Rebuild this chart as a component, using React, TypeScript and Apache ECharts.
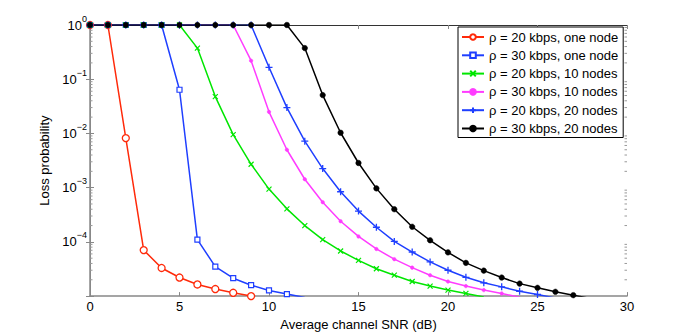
import React, { useEffect, useRef } from "react";
import * as echarts from "echarts";

// SNR (dB) starts at 0 and steps by 1 for every series
const snrStart = 0;
const snrStep = 1;

const red20One = [1, 1, 8.2e-3, 7.05e-5, 3.3e-5, 2.2e-5, 1.64e-5, 1.35e-5, 1.15e-5, 1.0e-5];
const blue30One = [1, 1, 1, 1, 1, 0.064, 1.1e-4, 3.5e-5, 2.14e-5, 1.59e-5, 1.27e-5, 1.09e-5, 9.4e-6];
const green20Ten = [1, 1, 1, 1, 1, 1, 0.375, 0.0478, 9.5e-3, 2.7e-3, 9.4e-4, 4.07e-4, 2.0e-4, 1.1e-4, 6.8e-5, 4.57e-5, 3.2e-5, 2.43e-5, 1.86e-5, 1.53e-5, 1.29e-5, 1.12e-5, 9.6e-6];
const magenta30Ten = [1, 1, 1, 1, 1, 1, 1, 1, 1, 0.22, 0.025, 5.0e-3, 1.43e-3, 5.4e-4, 2.4e-4, 1.26e-4, 7.4e-5, 4.8e-5, 3.35e-5, 2.43e-5, 1.86e-5, 1.53e-5, 1.29e-5, 1.12e-5, 9.5e-6];
const blue20Twenty = [1, 1, 1, 1, 1, 1, 1, 1, 1, 1, 0.166, 0.030, 7.2e-3, 2.25e-3, 8.4e-4, 3.7e-4, 1.86e-4, 1.02e-4, 6.5e-5, 4.27e-5, 3.0e-5, 2.22e-5, 1.76e-5, 1.48e-5, 1.23e-5, 1.07e-5, 9.2e-6];
const black30Twenty = [1, 1, 1, 1, 1, 1, 1, 1, 1, 1, 1, 1, 0.375, 0.051, 0.0103, 2.85e-3, 9.7e-4, 4.0e-4, 1.9e-4, 1.07e-4, 6.4e-5, 4.1e-5, 2.95e-5, 2.2e-5, 1.7e-5, 1.42e-5, 1.2e-5, 1.04e-5, 9.0e-6];

const seriesNames = [
  "ρ = 20 kbps, one node",
  "ρ = 30 kbps, one node",
  "ρ = 20 kbps, 10 nodes",
  "ρ = 30 kbps, 10 nodes",
  "ρ = 20 kbps, 20 nodes",
  "ρ = 30 kbps, 20 nodes",
];

const xMin = 0;
const xMax = 30;
const xInterval = 5;
const yMin = 1e-5;
const yMax = 1;
const xAxisTitle = "Average channel SNR (dB)";
const yAxisTitle = "Loss probability";

const FONT = "'Liberation Sans', Arial, Helvetica, sans-serif";

const toData = (vals: number[]) => vals.map((v, i) => [snrStart + i * snrStep, v]);

const minorValues: number[] = [];
for (let k = -5; k < 0; k++) {
  for (let m = 2; m <= 9; m++) minorValues.push(m * Math.pow(10, k));
}

export default function App() {
  const ref = useRef<HTMLDivElement>(null);
  useEffect(() => {
    document.body.style.margin = "0";
    if (!ref.current) return;
    const chart = echarts.init(ref.current, null, { renderer: "svg" });
    const xPath = "path://M0,0L10,10M10,0L0,10";
    const plusPath = "path://M5,0L5,10M0,5L10,5";
    const mk = (
      name: string,
      vals: number[],
      color: string,
      symbol: string,
      size: number,
      fill: string,
      bw: number
    ) => ({
      name,
      type: "line",
      data: toData(vals),
      symbol,
      symbolSize: size,
      showSymbol: true,
      clip: true,
      lineStyle: { color, width: 1.5 },
      itemStyle: { color: fill, borderColor: color, borderWidth: bw },
    });
    const option: any = {
      animation: false,
      backgroundColor: "#fff",
      textStyle: { fontFamily: FONT },
      grid: { left: 90, right: 65, top: 25, bottom: 37 },
      legend: {
        orient: "vertical",
        left: 458,
        top: 27,
        data: seriesNames,
        itemWidth: 22,
        itemHeight: 7,
        itemGap: 4.3,
        padding: [3, 5, 2, 3],
        backgroundColor: "#fff",
        borderColor: "#000",
        borderWidth: 1,
        borderRadius: 0,
        textStyle: { fontSize: 13, color: "#000", fontFamily: FONT, lineHeight: 14 },
      },
      xAxis: [
        {
          type: "value",
          min: xMin,
          max: xMax,
          interval: xInterval,
          position: "bottom",
          name: xAxisTitle,
          nameLocation: "middle",
          nameGap: 16,
          nameTextStyle: { fontSize: 13, color: "#000", fontFamily: FONT },
          axisLine: { lineStyle: { color: "#888", width: 1.5 } },
          axisTick: { inside: true, length: 4, lineStyle: { color: "#888" } },
          axisLabel: { fontSize: 13, color: "#000", margin: 4, fontFamily: FONT },
          splitLine: { show: false },
        },
        {
          type: "value",
          min: xMin,
          max: xMax,
          interval: xInterval,
          position: "top",
          axisLine: { lineStyle: { color: "#333", width: 1 } },
          axisTick: { inside: true, length: 4, lineStyle: { color: "#888" } },
          axisLabel: { show: false },
          splitLine: { show: false },
        },
      ],
      yAxis: [
        {
          type: "log",
          logBase: 10,
          min: yMin,
          max: yMax,
          position: "left",
          name: yAxisTitle,
          nameLocation: "middle",
          nameGap: 31,
          nameTextStyle: { fontSize: 13, color: "#000", fontFamily: FONT },
          axisLine: { lineStyle: { color: "#888", width: 1.5 } },
          axisTick: { inside: true, length: 4, lineStyle: { color: "#888" } },
          axisLabel: {
            margin: 3,
            fontFamily: FONT,
            formatter: (v: number) => {
              const e = Math.round(Math.log10(v));
              if (e <= -5) return "";
              return `{b|10}{s|${e < 0 ? "−" + -e : e}}`;
            },
            rich: {
              b: { fontSize: 13, color: "#000", lineHeight: 22, fontFamily: FONT },
              s: { fontSize: 9, color: "#000", lineHeight: 10, verticalAlign: "top", fontFamily: FONT },
            },
          },
          splitLine: { show: false },
        },
        {
          type: "log",
          logBase: 10,
          min: yMin,
          max: yMax,
          position: "right",
          axisLine: { lineStyle: { color: "#888", width: 1 } },
          axisTick: { inside: true, length: 4, lineStyle: { color: "#888" } },
          axisLabel: { show: false },
          splitLine: { show: false },
        },
      ],
      series: [
        {
          name: "minorTicks",
          type: "custom",
          xAxisIndex: 0,
          yAxisIndex: 0,
          silent: true,
          clip: false,
          data: minorValues.map((v) => [xMin, v]),
          renderItem: (_p: any, api: any) => {
            const v = api.value(1);
            const l = api.coord([xMin, v]);
            const r = api.coord([xMax, v]);
            return {
              type: "group",
              children: [
                { type: "line", shape: { x1: l[0], y1: l[1], x2: l[0] + 2.5, y2: l[1] }, style: { stroke: "#999", lineWidth: 1 } },
                { type: "line", shape: { x1: r[0], y1: r[1], x2: r[0] - 2.5, y2: r[1] }, style: { stroke: "#999", lineWidth: 1 } },
              ],
            };
          },
        },
        mk(seriesNames[0], red20One, "#ff2a0a", "circle", 7, "#fff", 1.3),
        mk(seriesNames[1], blue30One, "#1f3fff", "rect", 5, "#fff", 1.2),
        mk(seriesNames[2], green20Ten, "#00e600", xPath, 5, "#00e600", 1.2),
        mk(seriesNames[3], magenta30Ten, "#ff3cff", "circle", 3.5, "#ff3cff", 0.5),
        mk(seriesNames[4], blue20Twenty, "#1f3fff", plusPath, 7, "#1f3fff", 1.3),
        mk(seriesNames[5], black30Twenty, "#000000", "circle", 5.5, "#000000", 0.5),
      ],
    };
    chart.setOption(option);
    return () => chart.dispose();
  }, []);
  return <div ref={ref} style={{ width: 692, height: 336 }} />;
}
